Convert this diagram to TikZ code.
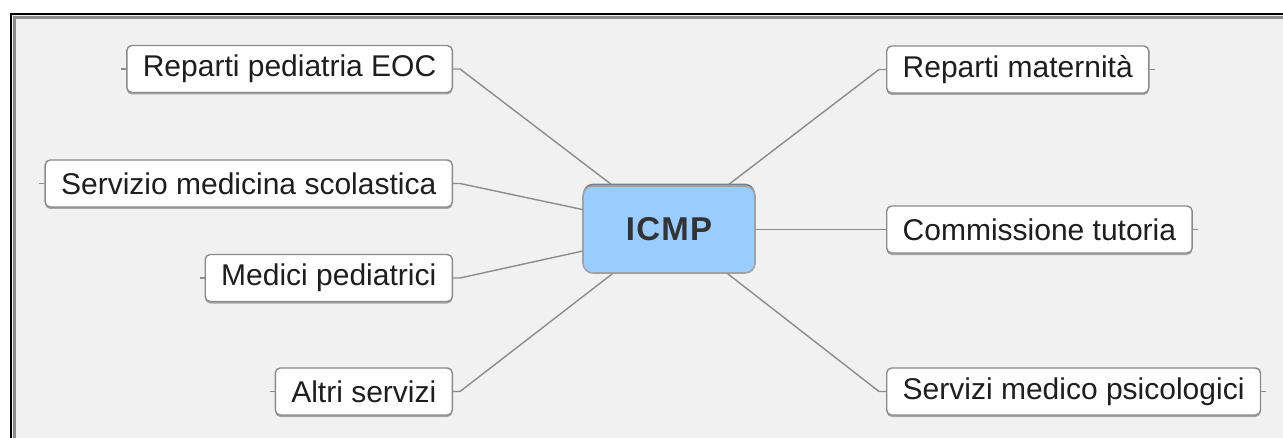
\documentclass[tikz,border=0pt]{standalone}
\usepackage{fontspec}
\setmainfont{Liberation Sans}
\usetikzlibrary{shadows}

\definecolor{paper}{HTML}{F1F1F1}
\definecolor{wire}{HTML}{8C8C8C}
\definecolor{rim}{HTML}{8A8A8A}
\definecolor{hub}{HTML}{99CCFF}
\definecolor{ink}{HTML}{1E1E1E}

\tikzset{
  leaf/.style={draw=rim, line width=0.7pt, fill=white, rounded corners=2.5pt,
    minimum height=23.5pt, inner xsep=8pt, text=ink,
    font=\fontsize{15}{18}\selectfont,
    drop shadow={shadow xshift=0pt, shadow yshift=-1pt, fill=black!35, opacity=1}},
  core/.style={draw=rim!80, line width=0.8pt, fill=hub, rounded corners=5pt,
    minimum width=86pt, minimum height=43.5pt, text=black!80,
    font=\fontsize{16.5}{19}\bfseries\selectfont,
    drop shadow={shadow xshift=0pt, shadow yshift=1.2pt, fill=black!50, opacity=1}},
  link/.style={draw=wire, line width=0.7pt}
}

\begin{document}
\begin{tikzpicture}[x=0.5pt, y=-0.5pt]
  % sheet and frame
  \fill[white] (0,0) rectangle (1283,438);
  \useasboundingbox (0,0) rectangle (1283,438);
  \fill[paper] (11,14) rectangle (1283,438);
  \draw[black!45, line width=1.2pt] (14.5,438) -- (14.5,17.5) -- (1283,17.5);
  \draw[black, line width=1.3pt] (11,438) -- (11,14) -- (1283,14);

  \node (ICMP) at (669,229.5) [core] {I\kern0.6pt C\kern0.6pt M\kern0.6pt P};

  % left branches
  \node (pedEOC) at (453,69) [leaf, anchor=east] {Reparti pediatria EOC};
  \node (scol) at (453,183.5) [leaf, anchor=east] {Servizio medicina scolastica};
  \node (medici) at (453,278) [leaf, anchor=east] {Medici pediatrici};
  \node (altri) at (453,391.5) [leaf, anchor=east] {Altri servizi};

  % right branches
  \node (mat) at (886,69.5) [leaf, anchor=west] {Reparti maternità};
  \node (tutoria) at (886,229.5) [leaf, anchor=west] {Commissione tutoria};
  \node (psico) at (886,391.5) [leaf, anchor=west] {Servizi medico psicologici};

  \foreach \src/\ang in {pedEOC/142, scol/167, medici/194, altri/218} {
    \draw[link] (\src.east) -- ++(7,0) -- (ICMP.\ang);
    \draw[link] (\src.west) -- ++(-5,0);
  }
  \foreach \dest/\ang in {mat/37, tutoria/0, psico/323} {
    \draw[link] (\dest.west) -- ++(-7,0) -- (ICMP.\ang);
    \draw[link] (\dest.east) -- ++(5,0);
  }
\end{tikzpicture}
\end{document}
